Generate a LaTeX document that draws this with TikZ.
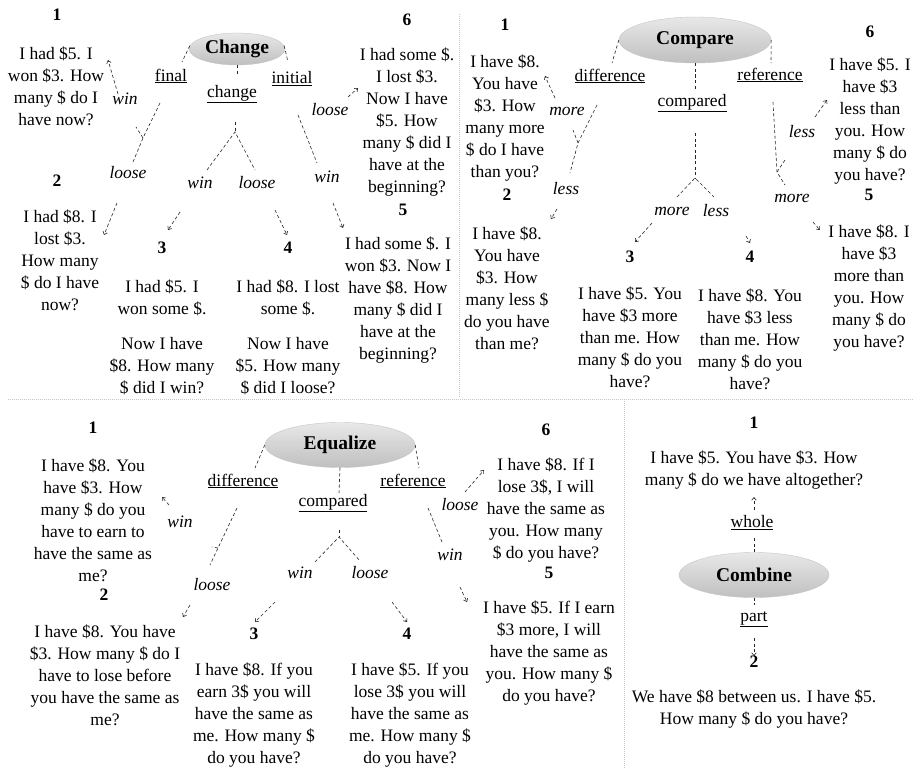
\documentclass[tikz,border=0pt]{standalone}
\usepackage{fontspec}
\setmainfont{Liberation Serif}
\usetikzlibrary{shapes.geometric,arrows.meta}
\tikzset{
 txt/.style={align=center, inner sep=0pt, font=\fontsize{17.5}{22}\selectfont},
 num/.style={inner sep=0pt, font=\bfseries\fontsize{17.5}{22}\selectfont},
 lbl/.style={inner sep=0pt, font=\fontsize{17.5}{22}\selectfont},
 itl/.style={inner sep=0pt, font=\itshape\fontsize{17.5}{22}\selectfont},
 blob/.style={ellipse, inner sep=0pt, top color=gray!18, bottom color=gray!50, draw=gray!45, line width=0.4pt, font=\bfseries\fontsize{19.5}{22}\selectfont},
 dl/.style={line width=0.6pt, dash pattern=on 3.2pt off 2.4pt, black!85},
 da/.style={dl, -{Straight Barb[length=2.8pt,width=4.6pt]}},
 sepl/.style={line width=0.8pt, gray!45, dash pattern=on 1pt off 1pt},
}
\begin{document}
\begin{tikzpicture}[x=1pt,y=-1pt]
\useasboundingbox (0,0) rectangle (914,768);
\fill[white] (0,0) rectangle (914,768);

% separators
\coordinate (s1) at (8,399); \coordinate (s2) at (914,399);
\coordinate (s3) at (459,14); \coordinate (s4) at (459,397);
\coordinate (s5) at (624,401); \coordinate (s6) at (624,768);
\draw[sepl] (s1) -- (s2);
\draw[sepl] (s3) -- (s4);
\draw[sepl] (s5) -- (s6);

%================ CHANGE =================
\node[blob, minimum width=96pt, minimum height=32pt] (ch) at (237,49) {Change};
\node[num] (ch1) at (57,15) {1};
\node[txt] (cht1) at (56,86) {I had \$5. I\\won \$3. How\\many \$ do I\\have now?};
\node[num] (ch2) at (57,181) {2};
\node[txt] (cht2) at (60,260) {I had \$8. I\\lost \$3.\\How many\\\$ do I have\\now?};
\node[num] (ch3) at (162,248) {3};
\node[txt] (cht3) at (162,337) {I had \$5. I\\won some \$.\\[13pt]Now I have\\\$8. How many\\\$ did I win?};
\node[num] (ch4) at (288,248) {4};
\node[txt] (cht4) at (288,337) {I had \$8. I lost\\some \$.\\[13pt]Now I have\\\$5. How many\\\$ did I loose?};
\node[num] (ch5) at (403,210) {5};
\node[txt] (cht5) at (398,300) {I had some \$. I\\won \$3. Now I\\have \$8. How\\many \$ did I\\have at the\\beginning?};
\node[num] (ch6) at (407,20) {6};
\node[txt] (cht6) at (407,122) {I had some \$.\\I lost \$3.\\Now I have\\\$5. How\\many \$ did I\\have at the\\beginning?};

\node[lbl] (chf) at (171,76) {\underline{final}};
\node[lbl] (chc) at (232,94) {\underline{change}};
\node[lbl] (chi) at (292,79) {\underline{initial}};
\node[itl] (chw1) at (125,99) {win};
\node[itl] (chl2) at (128,173) {loose};
\node[itl] (chw3) at (200,183) {win};
\node[itl] (chl4) at (257,183) {loose};
\node[itl] (chl6) at (330,110) {loose};
\node[itl] (chw5) at (327,177) {win};

\coordinate (cA1) at (182,62);
\coordinate (cA2) at (237,74);
\coordinate (cA3) at (288,62);
\draw[dl] (ch.176) -- (cA1);
\draw[dl] (ch.south) -- (cA2);
\draw[dl] (ch.4) -- (cA3);
\coordinate (cB0) at (160,103); \coordinate (cB1) at (143,138);
\coordinate (cB2) at (133,162); \coordinate (cB3) at (136,127);
\draw[dl] (cB0) -- (cB1) -- (cB2);
\draw[dl] (cB1) -- (cB3);
\coordinate (cW1s) at (118,94); \coordinate (cW1e) at (108,60);
\draw[da] (cW1s) -- (cW1e);
\coordinate (cL2s) at (117,203); \coordinate (cL2e) at (104,235);
\draw[da] (cL2s) -- (cL2e);
\coordinate (cC0) at (235,122); \coordinate (cC1) at (235,132);
\coordinate (cC2) at (207,170); \coordinate (cC3) at (255,170);
\draw[dl] (cC0) -- (cC1);
\draw[dl] (cC2) -- (cC1) -- (cC3);
\coordinate (cW3s) at (180,212); \coordinate (cW3e) at (168,230);
\draw[da] (cW3s) -- (cW3e);
\coordinate (cL4s) at (275,210); \coordinate (cL4e) at (287,235);
\draw[da] (cL4s) -- (cL4e);
\coordinate (cI0) at (298,115); \coordinate (cI1) at (317,163);
\draw[dl] (cI0) -- (cI1);
\coordinate (cL6s) at (348,97); \coordinate (cL6e) at (358,88);
\draw[da] (cL6s) -- (cL6e);
\coordinate (cW5s) at (333,203); \coordinate (cW5e) at (343,228);
\draw[da] (cW5s) -- (cW5e);

%================ COMPARE =================
\node[blob, minimum width=152pt, minimum height=46pt] (co) at (695,40) {Compare};
\node[num] (co1) at (505,25) {1};
\node[txt] (cot1) at (505,118) {I have \$8.\\You have\\\$3. How\\many more\\\$ do I have\\than you?};
\node[num] (co2) at (507,195) {2};
\node[txt] (cot2) at (507,288) {I have \$8.\\You have\\\$3. How\\many less \$\\do you have\\than me?};
\node[num] (co3) at (630,257) {3};
\node[txt] (cot3) at (630,337) {I have \$5. You\\have \$3 more\\than me. How\\many \$ do you\\have?};
\node[num] (co4) at (750,257) {4};
\node[txt] (cot4) at (750,339) {I have \$8. You\\have \$3 less\\than me. How\\many \$ do you\\have?};
\node[num] (co5) at (869,195) {5};
\node[txt] (cot5) at (869,288) {I have \$8. I\\have \$3\\more than\\you. How\\many \$ do\\you have?};
\node[num] (co6) at (870,32) {6};
\node[txt] (cot6) at (870,121) {I have \$5. I\\have \$3\\less than\\you. How\\many \$ do\\you have?};

\node[lbl] (cod) at (610,76) {\underline{difference}};
\node[lbl] (coc) at (692,103) {\underline{compared}};
\node[lbl] (cor) at (770,75) {\underline{reference}};
\node[itl] (com1) at (567,111) {more};
\node[itl] (col2) at (566,189) {less};
\node[itl] (com3) at (672,211) {more};
\node[itl] (col4) at (716,211) {less};
\node[itl] (col6) at (802,132) {less};
\node[itl] (com5) at (792,198) {more};

\coordinate (oA1) at (612,63);
\coordinate (oA2) at (695,90);
\coordinate (oA3) at (771,63);
\draw[dl] (co.west) -- (oA1);
\draw[dl] (co.south) -- (oA2);
\draw[dl] (co.east) -- (oA3);
\coordinate (oB0) at (597,105); \coordinate (oB1) at (578,143);
\coordinate (oB2) at (570,173); \coordinate (oB3) at (573,130);
\draw[dl] (oB0) -- (oB1) -- (oB2);
\draw[dl] (oB1) -- (oB3);
\coordinate (oM1s) at (555,98); \coordinate (oM1e) at (545,76);
\draw[da] (oM1s) -- (oM1e);
\coordinate (oL2s) at (557,209); \coordinate (oL2e) at (551,219);
\draw[da] (oL2s) -- (oL2e);
\coordinate (oC0) at (695,133); \coordinate (oC1) at (695,178);
\coordinate (oC2) at (677,197); \coordinate (oC3) at (714,197);
\draw[dl] (oC0) -- (oC1);
\draw[dl] (oC2) -- (oC1) -- (oC3);
\coordinate (oM3s) at (652,223); \coordinate (oM3e) at (635,242);
\draw[da] (oM3s) -- (oM3e);
\coordinate (oL4s) at (746,236); \coordinate (oL4e) at (750,243);
\draw[da] (oL4s) -- (oL4e);
\coordinate (oR0) at (773,102); \coordinate (oR1) at (777,172);
\coordinate (oR2) at (785,185); \coordinate (oR3) at (785,160);
\draw[dl] (oR0) -- (oR1) -- (oR2);
\draw[dl] (oR1) -- (oR3);
\coordinate (oL6s) at (815,117); \coordinate (oL6e) at (827,100);
\draw[da] (oL6s) -- (oL6e);
\coordinate (oM5s) at (813,222); \coordinate (oM5e) at (820,230);
\draw[da] (oM5s) -- (oM5e);

%================ EQUALIZE =================
\node[blob, minimum width=150pt, minimum height=45pt] (eq) at (340,445) {Equalize};
\node[num] (eq1) at (93,428) {1};
\node[txt] (eqt1) at (93,520) {I have \$8. You\\have \$3. How\\many \$ do you\\have to earn to\\have the same as\\me?};
\node[num] (eq2) at (104,595) {2};
\node[txt] (eqt2) at (105,675) {I have \$8. You have\\\$3. How many \$ do I\\have to lose before\\you have the same as\\me?};
\node[num] (eq3) at (254,634) {3};
\node[txt] (eqt3) at (254,715) {I have \$8. If you\\earn 3\$ you will\\have the same as\\me. How many \$\\do you have?};
\node[num] (eq4) at (407,634) {4};
\node[txt] (eqt4) at (410,715) {I have \$5. If you\\lose 3\$ you will\\have the same as\\me. How many \$\\do you have?};
\node[num] (eq5) at (549,573) {5};
\node[txt] (eqt5) at (549,653) {I have \$5. If I earn\\\$3 more, I will\\have the same as\\you. How many \$\\do you have?};
\node[num] (eq6) at (546,430) {6};
\node[txt] (eqt6) at (546,510) {I have \$8. If I\\lose 3\$, I will\\have the same as\\you. How many\\\$ do you have?};

\node[lbl] (eqd) at (243,481) {\underline{difference}};
\node[lbl] (eqc) at (333,503) {\underline{compared}};
\node[lbl] (eqr) at (413,481) {\underline{reference}};
\node[itl] (eqw1) at (180,522) {win};
\node[itl] (eql2) at (212,585) {loose};
\node[itl] (eqw3) at (300,573) {win};
\node[itl] (eql4) at (370,573) {loose};
\node[itl] (eql6) at (460,505) {loose};
\node[itl] (eqw5) at (450,555) {win};

\coordinate (eA1) at (255,468);
\coordinate (eA2) at (339,493);
\coordinate (eA3) at (419,468);
\draw[dl] (eq.west) -- (eA1);
\draw[dl] (eq.south) -- (eA2);
\draw[dl] (eq.east) -- (eA3);
\coordinate (eW1s) at (169,505); \coordinate (eW1e) at (162,497);
\draw[da] (eW1s) -- (eW1e);
\coordinate (eB0) at (237,508); \coordinate (eB1) at (218,548);
\coordinate (eB2) at (210,565); \coordinate (eB3) at (212,547);
\draw[dl] (eB0) -- (eB1) -- (eB2);
\draw[dl] (eB1) -- (eB3);
\coordinate (eL2s) at (190,605); \coordinate (eL2e) at (183,617);
\draw[da] (eL2s) -- (eL2e);
\coordinate (eC0) at (339,530); \coordinate (eC1) at (339,537);
\coordinate (eC2) at (315,562); \coordinate (eC3) at (360,561);
\draw[dl] (eC0) -- (eC1);
\draw[dl] (eC2) -- (eC1) -- (eC3);
\coordinate (eW3s) at (275,602); \coordinate (eW3e) at (255,622);
\draw[da] (eW3s) -- (eW3e);
\coordinate (eL4s) at (392,602); \coordinate (eL4e) at (407,622);
\draw[da] (eL4s) -- (eL4e);
\coordinate (eR0) at (428,508); \coordinate (eR1) at (442,542);
\draw[dl] (eR0) -- (eR1);
\coordinate (eL6s) at (465,492); \coordinate (eL6e) at (484,470);
\draw[da] (eL6s) -- (eL6e);
\coordinate (eW5s) at (460,587); \coordinate (eW5e) at (467,602);
\draw[da] (eW5s) -- (eW5e);

%================ COMBINE =================
\node[blob, minimum width=150pt, minimum height=45pt] (cb) at (754,575) {Combine};
\node[num] (cb1) at (754,423) {1};
\node[txt] (cbt1) at (754,470) {I have \$5. You have \$3. How\\many \$ do we have altogether?};
\node[lbl] (cbw) at (752,523) {\underline{whole}};
\node[lbl] (cbp) at (754,619) {\underline{part}};
\node[num] (cb2) at (754,662) {2};
\node[txt] (cbt2) at (754,709) {We have \$8 between us. I have \$5.\\How many \$ do you have?};

\coordinate (bA1) at (754,538);
\draw[dl] (cb.north) -- (bA1);
\coordinate (bW0) at (754,510); \coordinate (bW1) at (754,497);
\draw[da] (bW0) -- (bW1);
\coordinate (bP0) at (754,605);
\draw[dl] (cb.south) -- (bP0);
\coordinate (bP1) at (754,638); \coordinate (bP2) at (754,656);
\draw[da] (bP1) -- (bP2);
\end{tikzpicture}
\end{document}
